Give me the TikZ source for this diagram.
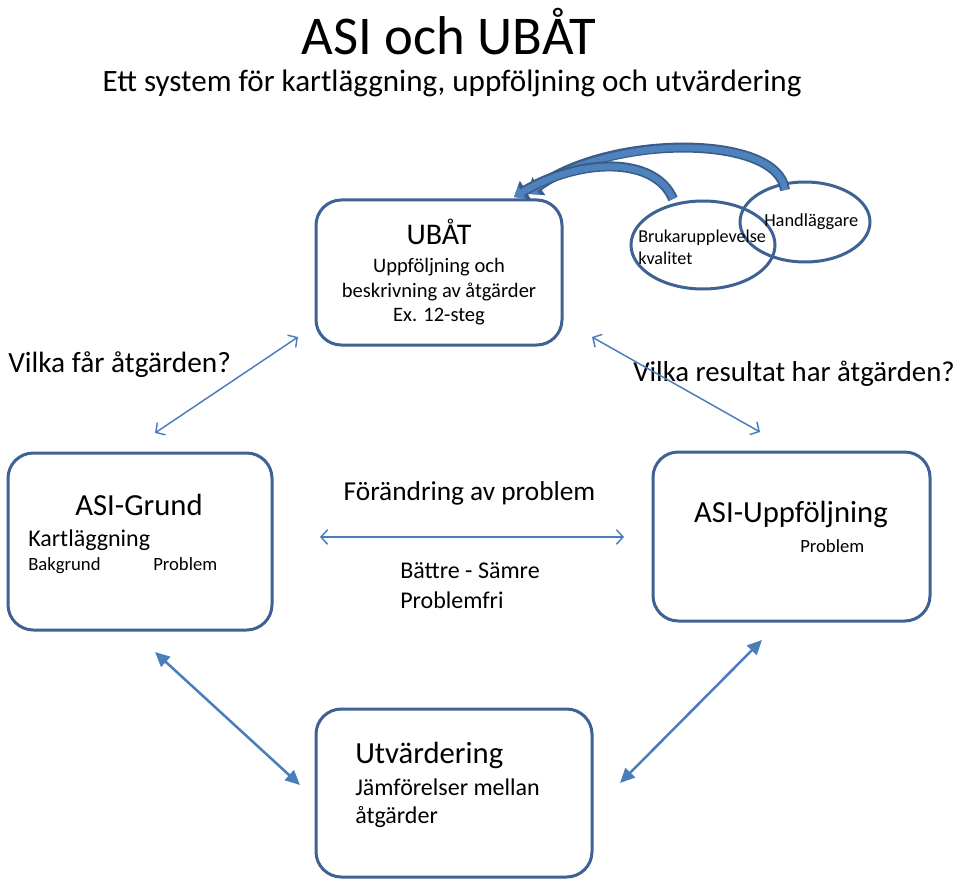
\documentclass[tikz,border=0pt]{standalone}
\usepackage{fontspec}
\setmainfont{Carlito}
\usetikzlibrary{arrows.meta,shapes.geometric}
\definecolor{boxblue}{HTML}{3E6293}
\definecolor{arrblue}{HTML}{4A7EBB}
\definecolor{lightblue}{HTML}{4F81BD}
\definecolor{darkblue}{HTML}{385D8A}
\newcommand{\fs}[1]{\fontsize{#1}{#1}\selectfont}
\begin{document}
\begin{tikzpicture}[x=0.75pt,y=-0.75pt,
  box/.style={draw=boxblue, line width=2.25pt, rounded corners=19pt, fill=white, rectangle},
  ell/.style={draw=boxblue, line width=2.25pt, ellipse, inner sep=0pt},
  txt/.style={anchor=base west, inner sep=0pt},
  ctxt/.style={anchor=base, inner sep=0pt},
  thinarrow/.style={draw=arrblue, line width=1.1pt, {Straight Barb[length=5pt,width=11pt]}-{Straight Barb[length=5pt,width=11pt]}},
  fillarrow/.style={draw=arrblue, line width=1.9pt, {Triangle[length=11pt,width=10pt]}-{Triangle[length=11pt,width=10pt]}},
  bigouter/.style={draw=darkblue, line width=7.5pt, -{Triangle[length=10pt,width=16pt]}},
  biginner/.style={draw=lightblue, line width=4.8pt, -{Triangle[length=7pt,width=11pt]}},
]
\useasboundingbox (0,0) rectangle (960,884);
\fill[white] (0,0) rectangle (960,884);

% title
\node[ctxt, font=\fs{41}] (title) at (449,55) {ASI och UBÅT};
\node[ctxt, font=\fs{23.3}] (subtitle) at (452,92) {Ett system för kartläggning, uppföljning och utvärdering};

% boxes
\node[box, minimum width=184.5pt, minimum height=108.75pt] (ubat) at (439,272.5) {};
\node[box, minimum width=198pt, minimum height=132.75pt] (grund) at (140,541.5) {};
\node[box, minimum width=207.75pt, minimum height=126.75pt] (uppf) at (791.5,536.5) {};
\node[box, minimum width=207pt, minimum height=126pt] (utv) at (454,793) {};

% ellipses
\node[ell, minimum width=108pt, minimum height=66pt] (bruk) at (703,245) {};
\node[ell, minimum width=97.5pt, minimum height=60pt] (handl) at (805,222) {};

% curved block arrows
\coordinate (brukTop) at (673,199);
\coordinate (handlTop) at (785,190);
\coordinate (tipA) at (514,197);
\coordinate (tipB) at (528,194);
\draw[bigouter] (handlTop) .. controls (778,134) and (610,134) .. (tipB);
\draw[biginner] (handlTop) .. controls (778,134) and (610,134) .. (tipB);
\draw[bigouter] (brukTop) .. controls (655,156) and (580,158) .. (tipA);
\draw[biginner] (brukTop) .. controls (655,156) and (580,158) .. (tipA);

% texts in ubat
\node[ctxt, font=\fs{22.5}] (ubatT) at (439,245) {UBÅT};
\node[ctxt, font=\fs{15.4}] (ubat1) at (439,273) {Uppföljning och};
\node[ctxt, font=\fs{15.4}] (ubat2) at (439,297) {beskrivning av åtgärder};
\node[ctxt, font=\fs{15.4}] (ubat3) at (439,321) {Ex. 12-steg};

% ellipse texts
\node[txt, font=\fs{13.6}] (brukT1) at (638,243) {Brukarupplevelse};
\node[txt, font=\fs{13.6}] (brukT2) at (638,265) {kvalitet};
\node[txt, font=\fs{13.8}] (handlT) at (764,227) {Handläggare};

% questions
\node[txt, font=\fs{22}] (q1) at (8,372) {Vilka får åtgärden?};
\node[txt, font=\fs{21.6}] (q2) at (633,381) {Vilka resultat har åtgärden?};

% grund texts
\node[ctxt, font=\fs{23}] (grundT) at (139,515) {ASI-Grund};
\node[txt, font=\fs{18}] (grund1) at (28,546) {Kartläggning};
\node[txt, font=\fs{14}] (grund2) at (28,570) {Bakgrund};
\node[txt, font=\fs{14}] (grund3) at (153,570) {Problem};

% uppf texts
\node[ctxt, font=\fs{23}] (uppfT) at (791,522) {ASI-Uppföljning};
\node[txt, font=\fs{14}] (uppf1) at (800,552) {Problem};

% middle
\node[ctxt, font=\fs{20.5}] (forand) at (469.5,500) {Förändring av problem};
\node[txt, font=\fs{18}] (batt) at (400,578) {Bättre - Sämre};
\node[txt, font=\fs{18}] (pfri) at (400,608) {Problemfri};

% utv texts
\node[txt, font=\fs{23}] (utvT) at (355,763) {Utvärdering};
\node[txt, font=\fs{18}] (utv1) at (355,795) {Jämförelser mellan};
\node[txt, font=\fs{18}] (utv2) at (355,823) {åtgärder};

% arrows
\coordinate (a1s) at (155,433);
\coordinate (a1e) at (298,337);
\coordinate (a2s) at (592,337);
\coordinate (a2e) at (760,432);
\coordinate (a3s) at (320,537);
\coordinate (a3e) at (624,537);
\coordinate (a4s) at (155,652);
\coordinate (a4e) at (300,785);
\coordinate (a5s) at (620,783);
\coordinate (a5e) at (762,640);
\draw[thinarrow] (a1s) -- (a1e);
\draw[thinarrow] (a2s) -- (a2e);
\draw[thinarrow] (a3s) -- (a3e);
\draw[fillarrow] (a4s) -- (a4e);
\draw[fillarrow] (a5s) -- (a5e);
\end{tikzpicture}
\end{document}
